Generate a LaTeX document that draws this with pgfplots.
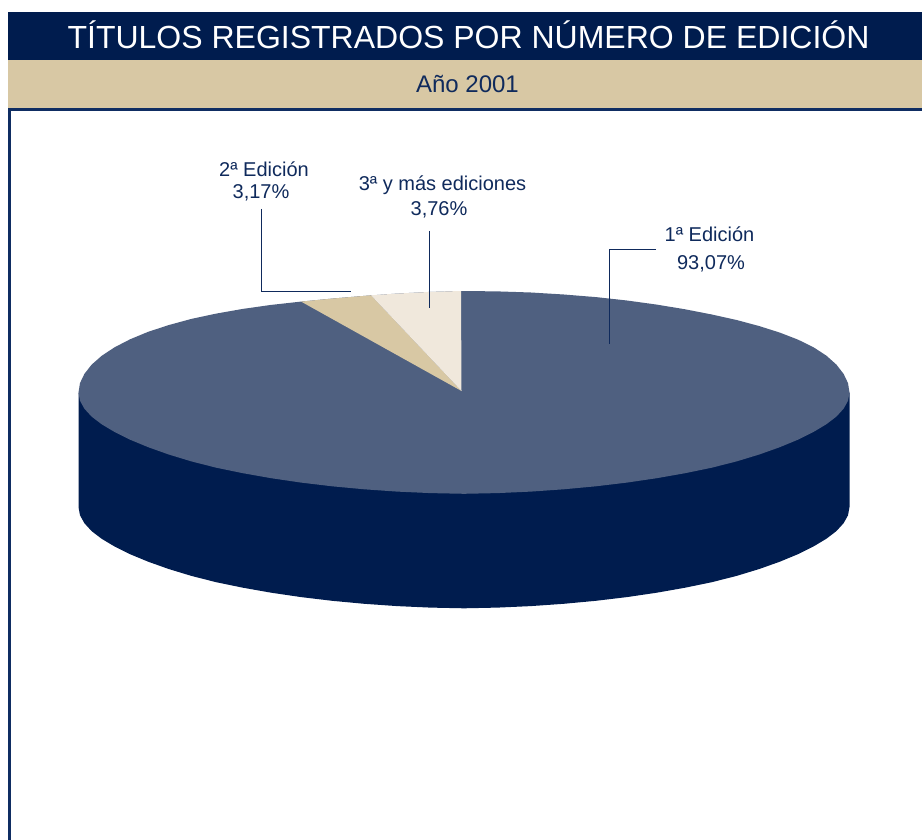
\documentclass[border=0pt]{standalone}
\usepackage{fontspec}
\setmainfont{Liberation Sans}
\usepackage{pgfplots}
\pgfplotsset{compat=1.18}
\definecolor{navy}{HTML}{001C4E}
\definecolor{frameblue}{HTML}{0F2D62}
\definecolor{slate}{HTML}{4F6080}
\definecolor{tan}{HTML}{D8C8A4}
\definecolor{cream}{HTML}{F0E8DC}
\definecolor{labelblue}{HTML}{0F2A5C}
\begin{document}
\begin{tikzpicture}
\begin{axis}[
    scale only axis,
    width=922pt,
    height=840pt,
    xmin=0, xmax=922,
    ymin=0, ymax=840,
    y dir=reverse,
    hide axis,
    axis background/.style={fill=white},
]
% header bands
\addplot[fill=navy, draw=none] coordinates {(8,12) (922,12) (922,60) (8,60)};
\addplot[fill=tan, draw=none] coordinates {(8,60) (922,60) (922,108) (8,108)};
% frame
\addplot[fill=frameblue, draw=none] coordinates {(8,108) (922,108) (922,111) (8,111)};
\addplot[fill=frameblue, draw=none] coordinates {(8,108) (11,108) (11,840) (8,840)};
% side wall of the pie
\addplot[fill=navy, draw=none] coordinates {
(78.5,392.5) (78.5,507) (80.0,515.3) (84.4,523.2) (91.6,531.1) (101.7,538.8) (114.6,546.5)
(130.1,554.2) (148.2,561.7) (168.7,569) (191.4,575.9) (216.2,582.2) (242.9,587.7)
(271.2,592.7) (301.1,597.1) (332.1,600.8) (364.2,603.8) (397.1,606.1) (430.4,607.6) (464,608.3)
(497.6,607.6) (530.9,606.1) (563.8,603.8) (595.9,600.8) (626.9,597.1) (656.8,592.7)
(685.1,587.7) (711.8,582.2) (736.6,575.9) (759.3,569) (779.8,561.7) (797.9,554.2)
(813.4,546.5) (826.3,538.8) (836.4,531.1) (843.6,523.2) (848.0,515.3) (849.5,507) (849.5,392.5)
};
% top face, 1a edicion
\addplot[fill=slate, draw=none] coordinates {
(849.5,392.5) (848.0,383.1) (843.6,373.9) (836.4,364.6) (826.3,355.6) (813.4,347.2)
(797.9,339.6) (779.8,332.6) (759.3,326.1) (736.6,320.0) (711.8,314.5) (685.1,309.3)
(656.8,304.6) (626.9,300.5) (595.9,297.1) (563.8,294.5) (530.9,292.5) (497.6,291.4) (464,291)
(430.4,291.9) (397.1,293.6) (364.2,295.9) (332.1,298.6) (301.1,301.6) (271.2,304.9)
(242.9,308.9) (216.2,313.6) (191.4,318.9) (168.7,325.1) (148.2,331.8) (130.1,339.3)
(114.6,347.3) (101.7,355.8) (91.6,364.7) (84.4,373.9) (80.0,383.1) (78.5,392.5)
(80.0,400.8) (84.4,408.7) (91.6,416.6) (101.7,424.3) (114.6,432.0) (130.1,439.7)
(148.2,447.2) (168.7,454.5) (191.4,461.4) (216.2,467.7) (242.9,473.2) (271.2,478.2)
(301.1,482.6) (332.1,486.3) (364.2,489.3) (397.1,491.6) (430.4,493.1) (464,493.8)
(497.6,493.1) (530.9,491.6) (563.8,489.3) (595.9,486.3) (626.9,482.6) (656.8,478.2)
(685.1,473.2) (711.8,467.7) (736.6,461.4) (759.3,454.5) (779.8,447.2) (797.9,439.7)
(813.4,432.0) (826.3,424.3) (836.4,416.6) (843.6,408.7) (848.0,400.8)
};
% 2a edicion
\addplot[fill=tan, draw=none] coordinates {
(461.5,391) (301.1,301.6) (332.1,298.6) (364.2,295.9) (371,295.3)
};
% 3a y mas ediciones
\addplot[fill=cream, draw=none] coordinates {
(461.5,391) (371,295.3) (397.1,293.6) (430.4,291.9) (461,291)
};
% leader lines
\addplot[labelblue, line width=0.9pt] coordinates {(261,209) (261,291) (351,291)};
\addplot[labelblue, line width=0.9pt] coordinates {(429,231) (429,308)};
\addplot[labelblue, line width=0.9pt] coordinates {(656,249) (609,249) (609,344)};
% texts
\node[white, anchor=base, font=\fontsize{32}{36}\selectfont] at (axis cs:468.5,49) {TÍTULOS REGISTRADOS POR NÚMERO DE EDICIÓN};
\node[labelblue, anchor=base, font=\fontsize{24}{26}\selectfont] at (axis cs:467.5,92.5) {Año 2001};
\tikzset{lab/.style={labelblue, anchor=base, font=\fontsize{20}{24}\selectfont}}
\node[lab] at (axis cs:264,176.7) {2ª Edición};
\node[lab] at (axis cs:261,198.3) {3,17\%};
\node[lab] at (axis cs:442.5,190.7) {3ª y más ediciones};
\node[lab] at (axis cs:439,215) {3,76\%};
\node[lab] at (axis cs:709.5,241.7) {1ª Edición};
\node[lab] at (axis cs:711,269.3) {93,07\%};
\end{axis}
\end{tikzpicture}
\end{document}
